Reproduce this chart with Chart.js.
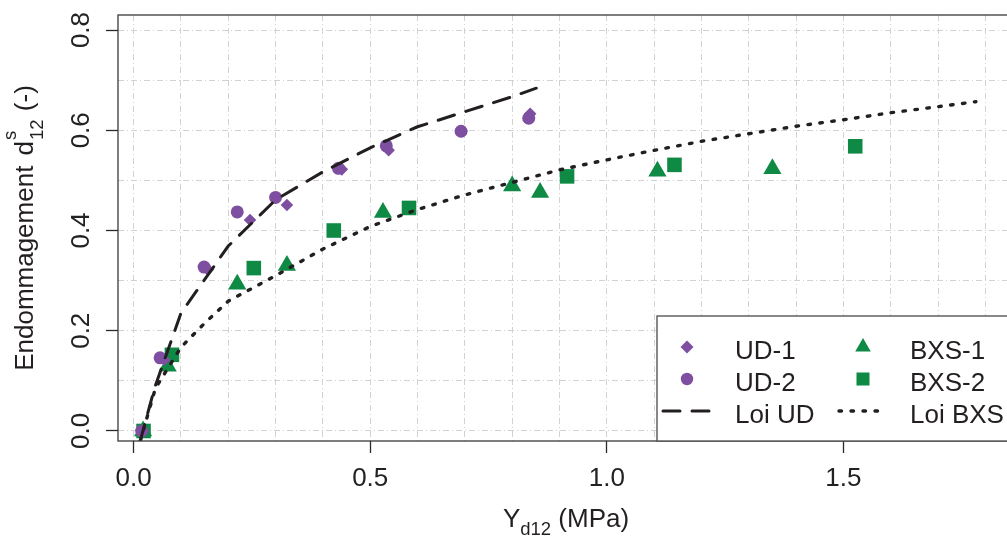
<!DOCTYPE html>
<html>
<head>
<meta charset="utf-8">
<script src="https://cdn.jsdelivr.net/npm/chart.js@4.4.1/dist/chart.umd.min.js"></script>
<style>
html,body{margin:0;padding:0;overflow:hidden;background:#fff;width:1007px;height:536px}
#wrap{position:absolute;left:0;top:0;width:1032px;height:536px}
</style>
</head>
<body>
<div id="wrap"><canvas id="c" width="1032" height="536"></canvas></div>
<script>
// ---------- data ----------
const ud1X  = [0.020, 0.065, 0.157, 0.246, 0.324, 0.440, 0.539, 0.693, 0.838];
const ud1Y  = [0.000, 0.142, 0.322, 0.421, 0.451, 0.522, 0.560, 0.598, 0.633];
const ud2X  = [0.017, 0.056, 0.149, 0.219, 0.300, 0.433, 0.534, 0.692, 0.835];
const ud2Y  = [0.000, 0.146, 0.327, 0.437, 0.466, 0.524, 0.569, 0.598, 0.624];
const bxs1X = [0.020, 0.072, 0.219, 0.324, 0.527, 0.800, 0.859, 1.107, 1.350];
const bxs1Y = [0.000, 0.129, 0.293, 0.330, 0.436, 0.489, 0.476, 0.518, 0.523];
const bxs2X = [0.021, 0.081, 0.254, 0.423, 0.582, 0.916, 1.143, 1.525];
const bxs2Y = [0.000, 0.152, 0.325, 0.400, 0.445, 0.508, 0.531, 0.568];
const loiUdX  = [0.014, 0.044, 0.100, 0.200, 0.300, 0.400, 0.500, 0.600, 0.700, 0.800, 0.851];
const loiUdY  = [-0.020, 0.085, 0.235, 0.369, 0.461, 0.517, 0.565, 0.607, 0.637, 0.667, 0.684];
const loiBxsX = [0.014, 0.046, 0.100, 0.150, 0.200, 0.300, 0.400, 0.500, 0.600, 0.700, 0.800, 0.900, 1.000, 1.100, 1.200, 1.300, 1.400, 1.500, 1.600, 1.700, 1.780];
const loiBxsY = [-0.020, 0.085, 0.167, 0.215, 0.259, 0.310, 0.363, 0.408, 0.442, 0.471, 0.496, 0.521, 0.541, 0.560, 0.578, 0.593, 0.608, 0.621, 0.635, 0.647, 0.657];

const xTickValues = [0, 0.5, 1.0, 1.5];
const xTickLabels = ['0.0', '0.5', '1.0', '1.5'];
const yTickValues = [0, 0.2, 0.4, 0.6, 0.8];
const yTickLabels = ['0.0', '0.2', '0.4', '0.6', '0.8'];
const legendOrder = ['UD-1', 'UD-2', 'Loi UD', 'BXS-1', 'BXS-2', 'Loi BXS'];

// ---------- styles ----------
const PURPLE = '#7e4fa0', GREEN = '#0f8a44', INK = '#231f20';
const FONT = '"Liberation Sans", Arial, Helvetica, sans-serif';
const GRID = '#d2d2d2';

const pts = (xs, ys) => xs.map((x, i) => ({x: x, y: ys[i]}));
const findIdx = (arr, v) => arr.findIndex(t => Math.abs(t - v) < 1e-9);

Chart.defaults.font.family = FONT;
Chart.defaults.font.size = 26;
Chart.defaults.color = '#222';

function marker(ctx, style, x, y, r, color) {
  ctx.fillStyle = color;
  ctx.beginPath();
  if (style === 'rectRot') {
    ctx.moveTo(x - r, y); ctx.lineTo(x, y - r); ctx.lineTo(x + r, y); ctx.lineTo(x, y + r);
  } else if (style === 'circle') {
    ctx.arc(x, y, r, 0, 2 * Math.PI);
  } else if (style === 'triangle') {
    const a = 2 * Math.PI / 3;
    ctx.moveTo(x, y - r);
    ctx.lineTo(x + r * Math.sin(a), y - r * Math.cos(a));
    ctx.lineTo(x + r * Math.sin(2 * a), y - r * Math.cos(2 * a));
  } else {
    const s = r * Math.SQRT1_2;
    ctx.rect(x - s, y - s, 2 * s, 2 * s);
  }
  ctx.closePath();
  ctx.fill();
}

const legendSizes = {rectRot: 6.5, circle: 6.2, triangle: 9, rect: 9.2};

const decor = {
  id: 'decor',
  afterDatasetsDraw(chart) {
    const ctx = chart.ctx, a = chart.chartArea;
    ctx.save();
    // plot frame
    ctx.setLineDash([]);
    ctx.strokeStyle = '#3a3a3a';
    ctx.lineWidth = 1.3;
    ctx.strokeRect(a.left, a.top, a.right - a.left, a.bottom - a.top);

    // legend box
    const L = {left: 657, top: 316, right: a.right + 4, bottom: a.bottom};
    ctx.fillStyle = '#fff';
    ctx.fillRect(L.left, L.top, L.right - L.left, L.bottom - L.top);
    ctx.strokeStyle = '#4a4a4a';
    ctx.lineWidth = 1.3;
    ctx.strokeRect(L.left, L.top, L.right - L.left, L.bottom - L.top);

    const symX = [687, 863], textX = [735, 910], rowY = [347, 379, 411];
    ctx.font = '26px ' + FONT;
    ctx.textAlign = 'left';
    ctx.textBaseline = 'alphabetic';
    legendOrder.forEach((lab, i) => {
      const ds = chart.data.datasets.find(d => d.label === lab);
      const col = Math.floor(i / 3), row = i % 3;
      const x = symX[col], y = rowY[row];
      if (ds.showLine) {
        ctx.save();
        ctx.strokeStyle = ds.borderColor;
        ctx.lineWidth = ds.borderWidth;
        ctx.lineCap = ds.borderCapStyle || 'butt';
        ctx.setLineDash(ds.borderDash || []);
        ctx.beginPath();
        ctx.moveTo(x - 24, y); ctx.lineTo(x + 22, y);
        ctx.stroke();
        ctx.restore();
      } else {
        marker(ctx, ds.pointStyle, x, y, legendSizes[ds.pointStyle], ds.backgroundColor);
      }
      ctx.fillStyle = INK;
      ctx.fillText(ds.label, textX[col], y + 12);
    });
    ctx.restore();
  },
  afterDraw(chart) {
    const ctx = chart.ctx, a = chart.chartArea;
    const main = '26px ' + FONT, small = '18.5px ' + FONT;
    ctx.save();
    ctx.fillStyle = INK;
    ctx.textAlign = 'left';
    ctx.textBaseline = 'alphabetic';

    // x title: Y_d12 (MPa)
    ctx.font = main;
    const wY = ctx.measureText('Y').width;
    const wP = ctx.measureText(' (MPa)').width;
    ctx.font = small;
    const wS = ctx.measureText('d12').width;
    const totalX = wY + wS + wP;
    let x = (a.left + a.right) / 2 - totalX / 2 - 2;
    const by = 527;
    ctx.font = main; ctx.fillText('Y', x, by); x += wY;
    ctx.font = small; ctx.fillText('d12', x, by + 8); x += wS;
    ctx.font = main; ctx.fillText(' (MPa)', x, by);

    // y title: Endommagement d^s_12 (-)
    ctx.translate(33, (a.top + a.bottom) / 2);
    ctx.rotate(-Math.PI / 2);
    ctx.font = main;
    const w1 = ctx.measureText('Endommagement').width;
    const wsp = ctx.measureText(' ').width + 3;
    const wd = ctx.measureText('d').width;
    const w3 = ctx.measureText(' (-)').width;
    ctx.font = small;
    const w2 = Math.max(ctx.measureText('s').width, ctx.measureText('12').width) + 1;
    const total = w1 + wsp + wd + 1 + w2 + w3;
    let t = -total / 2;
    ctx.font = main; ctx.fillText('Endommagement', t, 0); t += w1 + wsp;
    ctx.fillText('d', t, 0); t += wd + 1;
    ctx.font = small; ctx.fillText('s', t, -17); ctx.fillText('12', t, 9.5); t += w2;
    ctx.font = main; ctx.fillText(' (-)', t, 0);
    ctx.restore();
  }
};

const gridOpts = (majors) => ({
  color: GRID,
  lineWidth: 1,
  drawTicks: true,
  tickLength: 12,
  tickWidth: 1.3,
  tickColor: (c) => (c.tick && findIdx(majors, c.tick.value) >= 0) ? '#2a2a2a' : 'rgba(0,0,0,0)'
});

new Chart(document.getElementById('c'), {
  type: 'scatter',
  data: {
    datasets: [
      {label: 'UD-1', data: pts(ud1X, ud1Y), pointStyle: 'rectRot', pointRadius: 6.3, backgroundColor: PURPLE, borderColor: PURPLE, borderWidth: 0, order: 2},
      {label: 'UD-2', data: pts(ud2X, ud2Y), pointStyle: 'circle', pointRadius: 6.5, backgroundColor: PURPLE, borderColor: PURPLE, borderWidth: 0, order: 2},
      {label: 'BXS-1', data: pts(bxs1X, bxs1Y), pointStyle: 'triangle', pointRadius: 10.5, backgroundColor: GREEN, borderColor: GREEN, borderWidth: 0, order: 2},
      {label: 'BXS-2', data: pts(bxs2X, bxs2Y), pointStyle: 'rect', pointRadius: 10.3, backgroundColor: GREEN, borderColor: GREEN, borderWidth: 0, order: 2},
      {label: 'Loi UD', data: pts(loiUdX, loiUdY), showLine: true, pointRadius: 0, borderColor: INK, backgroundColor: INK, borderWidth: 3, borderDash: [17, 12], borderCapStyle: 'round', fill: false, tension: 0, order: 1},
      {label: 'Loi BXS', data: pts(loiBxsX, loiBxsY), showLine: true, pointRadius: 0, borderColor: INK, backgroundColor: INK, borderWidth: 3.4, borderDash: [2.5, 9.5], borderCapStyle: 'round', fill: false, tension: 0, order: 1}
    ]
  },
  options: {
    responsive: false,
    animation: false,
    devicePixelRatio: 1,
    layout: {padding: {left: 0, right: 14, top: 15, bottom: 0}},
    plugins: {legend: {display: false}, tooltip: {enabled: false}},
    scales: {
      x: {
        type: 'linear', position: 'bottom',
        min: -0.033, max: 1.869,
        afterBuildTicks: (s) => { const t = []; for (let i = 0; i <= 18; i++) t.push({value: i / 10}); s.ticks = t; },
        afterFit: (s) => { s.height = 95; s.paddingLeft = 0; s.paddingRight = 0; },
        grid: gridOpts(xTickValues),
        border: {display: false, dash: [6, 3, 1, 3]},
        ticks: {
          autoSkip: false, maxRotation: 0, minRotation: 0, padding: 10,
          callback: (v) => { const i = findIdx(xTickValues, v); return i >= 0 ? xTickLabels[i] : ''; }
        }
      },
      y: {
        type: 'linear', position: 'left',
        min: -0.02, max: 0.83,
        afterBuildTicks: (s) => { const t = []; for (let i = 0; i <= 8; i++) t.push({value: i / 10}); s.ticks = t; },
        afterFit: (s) => { s.width = 118; s.paddingTop = 0; s.paddingBottom = 0; },
        grid: gridOpts(yTickValues),
        border: {display: false, dash: [6, 3, 1, 3]},
        ticks: {
          autoSkip: false, minRotation: 90, maxRotation: 90, crossAlign: 'center', padding: 6,
          callback: (v) => { const i = findIdx(yTickValues, v); return i >= 0 ? yTickLabels[i] : ''; }
        }
      }
    }
  },
  plugins: [decor]
});
</script>
</body>
</html>
